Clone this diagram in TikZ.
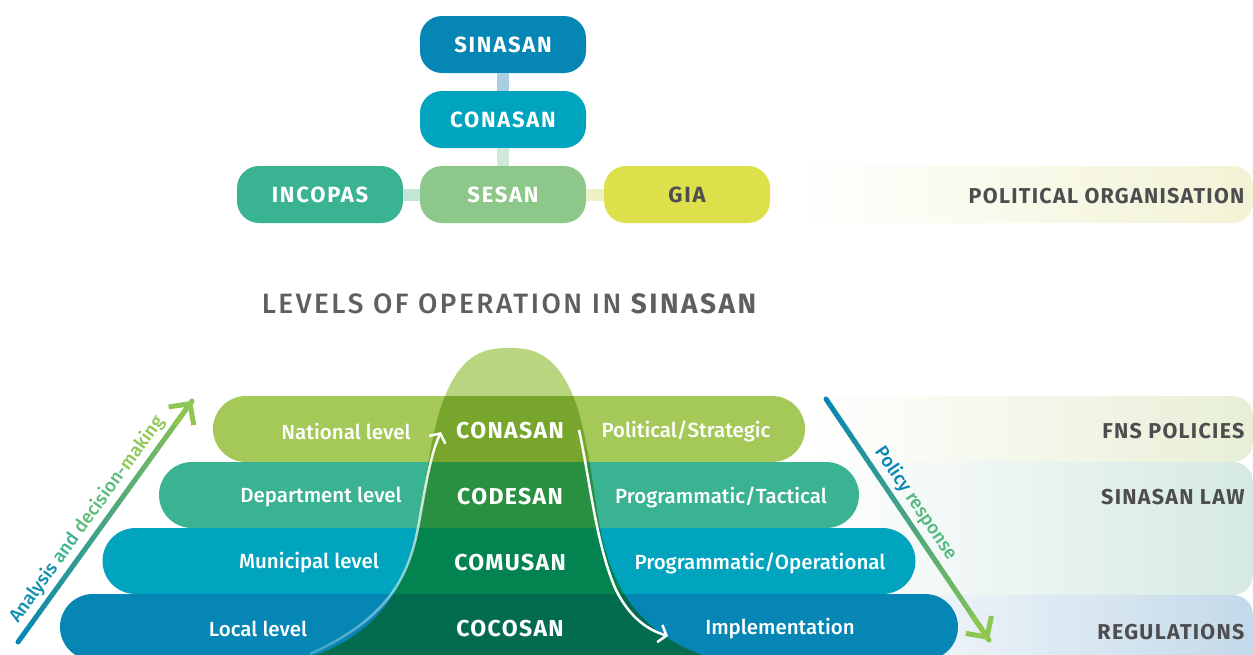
\documentclass[tikz,border=0pt]{standalone}
\usepackage{fontspec}
\setmainfont{Fira Sans}
\newfontfamily\mittel{Fira Sans Medium}
\usepackage{tikz}
\usetikzlibrary{calc}
\usetikzlibrary{arrows.meta,fadings}
\definecolor{ECblue}{RGB}{5,134,180}
\definecolor{ECcyan}{RGB}{0,164,191}
\definecolor{ECsage}{RGB}{141,200,138}
\definecolor{ECteal}{RGB}{58,179,146}
\definecolor{ECyellow}{RGB}{222,224,75}
\definecolor{ECgreen}{RGB}{165,201,88}
\definecolor{ECgray}{RGB}{77,77,79}
\definecolor{LinkBlue}{RGB}{169,205,225}
\definecolor{LinkSage}{RGB}{208,232,216}
\definecolor{LinkTeal}{RGB}{196,230,217}
\definecolor{LinkYellow}{RGB}{238,241,198}
\definecolor{PolTint}{RGB}{242,243,213}
\definecolor{FnsTint}{RGB}{232,239,214}
\definecolor{LawTint}{RGB}{213,233,226}
\definecolor{RegTint}{RGB}{195,217,233}
\definecolor{BellTop}{RGB}{184,214,127}
\definecolor{NatDark}{RGB}{120,165,44}
\definecolor{DepDark}{RGB}{40,144,64}
\definecolor{MunDark}{RGB}{3,131,80}
\definecolor{LocDark}{RGB}{3,107,78}
\definecolor{ArrGreen}{RGB}{141,198,80}
\tikzfading[name=fadeup, top color=transparent!0, bottom color=transparent!75]

\begin{document}
\begin{tikzpicture}[x=1pt, y=-1pt,
  Box/.style={rounded corners=22, minimum width=166, minimum height=57, inner sep=0, text=white, font=\fontsize{22}{22}\selectfont\bfseries\addfontfeature{LetterSpace=8}},
  Link/.style={line width=12},
  Band/.style={rounded corners=33, minimum height=66, inner sep=0},
  Txt/.style={text=white, font=\mittel\fontsize{20.5}{20.5}\selectfont},
  Kern/.style={text=white, font=\fontsize{23}{23}\selectfont\bfseries\addfontfeature{LetterSpace=6}},
  Tag/.style={anchor=east, text=ECgray, font=\fontsize{21.5}{21.5}\selectfont\bfseries\addfontfeature{LetterSpace=6}},
  Pfeil/.style={line width=5, line cap=round},
  Weiss/.style={white, line width=2.5, -{Straight Barb[length=7pt, width=18pt]}}]
  \clip (0,0) rectangle (1253,654);
  % political organisation
  \shade[left color=white, right color=PolTint, rounded corners=20] (790,166) rectangle (1253,223);
  \node[Tag] (polorg) at (1248,196) {POLITICAL ORGANISATION};
  \node[Box, fill=ECblue] (sinasan) at (503,44.5) {SINASAN};
  \node[Box, fill=ECcyan] (conasan) at (503,119.5) {CONASAN};
  \node[Box, fill=ECsage] (sesan) at (503,194.5) {SESAN};
  \node[Box, fill=ECteal] (incopas) at (320,194.5) {INCOPAS};
  \node[Box, fill=ECyellow, text=ECgray] (gia) at (687,194.5) {GIA};
  \draw[Link, LinkBlue] (sinasan) -- (conasan);
  \draw[Link, LinkSage] (conasan) -- (sesan);
  \draw[Link, LinkTeal] (incopas) -- (sesan);
  \draw[Link, LinkYellow] (sesan) -- (gia);

  \node[text=ECgray!90!white, font=\mittel\fontsize{28}{28}\selectfont\addfontfeature{LetterSpace=9}] (title) at (509,304) {LEVELS OF OPERATION IN {\normalfont\bfseries\addfontfeature{LetterSpace=9}SINASAN}};

  % levels
  \shade[left color=white, right color=FnsTint, rounded corners=20] (800,396) rectangle (1253,462);
  \shade[left color=white, right color=LawTint, rounded corners=20] (800,462) rectangle (1253,595);
  \shade[left color=white, right color=RegTint, rounded corners=20] (800,595) rectangle (1253,690);
  \node[Band, fill=ECgreen, minimum width=592] (national) at (509,429) {};
  \node[Band, fill=ECteal, minimum width=700] (department) at (509,495) {};
  \node[Band, fill=ECcyan, minimum width=813] (municipal) at (509,561) {};
  \node[Band, fill=ECblue, minimum width=898] (local) at (509,627) {};
  \begin{scope}
    \clip (240,672) .. controls (345,660) and (400,620) .. (418,528)
      .. controls (428,470) and (432,420) .. (450,385)
      .. controls (468,350) and (490,348) .. (509,348)
      .. controls (528,348) and (550,350) .. (568,385)
      .. controls (586,420) and (590,470) .. (600,528)
      .. controls (618,620) and (673,660) .. (778,672) -- cycle;
    \fill[BellTop] (0,340) rectangle (1253,396);
    \fill[NatDark] (0,396) rectangle (1253,462);
    \fill[DepDark] (0,462) rectangle (1253,528);
    \fill[MunDark] (0,528) rectangle (1253,594);
    \fill[LocDark] (0,594) rectangle (1253,690);
  \end{scope}
  \node[Txt] (natL) at (346,431) {National level};
  \node[Txt] (depL) at (321,497) {Department level};
  \node[Txt] (munL) at (309,563) {Municipal level};
  \node[Txt] (locL) at (258,629) {Local level};
  \node[Kern] (natC) at (510,431) {CONASAN};
  \node[Kern] (depC) at (510,497) {CODESAN};
  \node[Kern] (munC) at (510,563) {COMUSAN};
  \node[Kern] (locC) at (510,629) {COCOSAN};
  \node[Txt] (natR) at (686,431) {Political/Strategic};
  \node[Txt] (depR) at (721,497) {Programmatic/Tactical};
  \node[Txt] (munR) at (760,563) {Programmatic/Operational};
  \node[Txt] (locR) at (780,629) {Implementation};
  \node[Tag] (fns) at (1248,431) {FNS POLICIES};
  \node[Tag] (law) at (1248,497) {SINASAN LAW};
  \node[Tag] (reg) at (1248,632) {REGULATIONS};

  \draw[Weiss, path fading=fadeup] (310,654) .. controls (385,620) and (408,580) .. (418,528)
    .. controls (425,490) and (430,455) .. (441,432);
  \draw[Weiss] (579,430) .. controls (590,480) and (596,545) .. (616,590)
    .. controls (630,618) and (648,630) .. (668,636);

  % analysis and decision-making
  \coordinate (adA) at (18,642);
  \coordinate (adB) at (192,401);
  \foreach \i [evaluate=\i as \p using int(\i*2.5)] in {0,...,39}
    \draw[Pfeil, ArrGreen!\p!ECblue] ($(adA)!{\i/40}!(adB)$) -- ($(adA)!{(\i+1)/40}!(adB)$);
  \draw[line width=5, ArrGreen, -{Straight Barb[length=15pt, width=31pt]}] ($(adA)!0.9!(adB)$) -- (adB);
  \path (adA) -- (adB) node[pos=0.47, sloped, above=3pt, font=\mittel\fontsize{18.5}{18.5}\selectfont] (adtxt)
    {\color{ECblue!80!ECteal}Analysis \color{ECteal}and \color{ECteal!60!ArrGreen}decision-\color{ArrGreen}making};

  % policy response
  \coordinate (prA) at (826,399);
  \coordinate (prB) at (989,640);
  \foreach \i [evaluate=\i as \p using int(\i*2.5)] in {0,...,39}
    \draw[Pfeil, ArrGreen!\p!ECblue] ($(prA)!{\i/40}!(prB)$) -- ($(prA)!{(\i+1)/40}!(prB)$);
  \draw[line width=5, ArrGreen, -{Straight Barb[length=15pt, width=31pt]}] ($(prA)!0.9!(prB)$) -- (prB);
  \path (prA) -- (prB) node[pos=0.47, sloped, above=3pt, font=\mittel\fontsize{18.5}{18.5}\selectfont] (prtxt)
    {\color{ECblue}Policy \color{ECteal!70!ArrGreen}response};
\end{tikzpicture}
\end{document}
